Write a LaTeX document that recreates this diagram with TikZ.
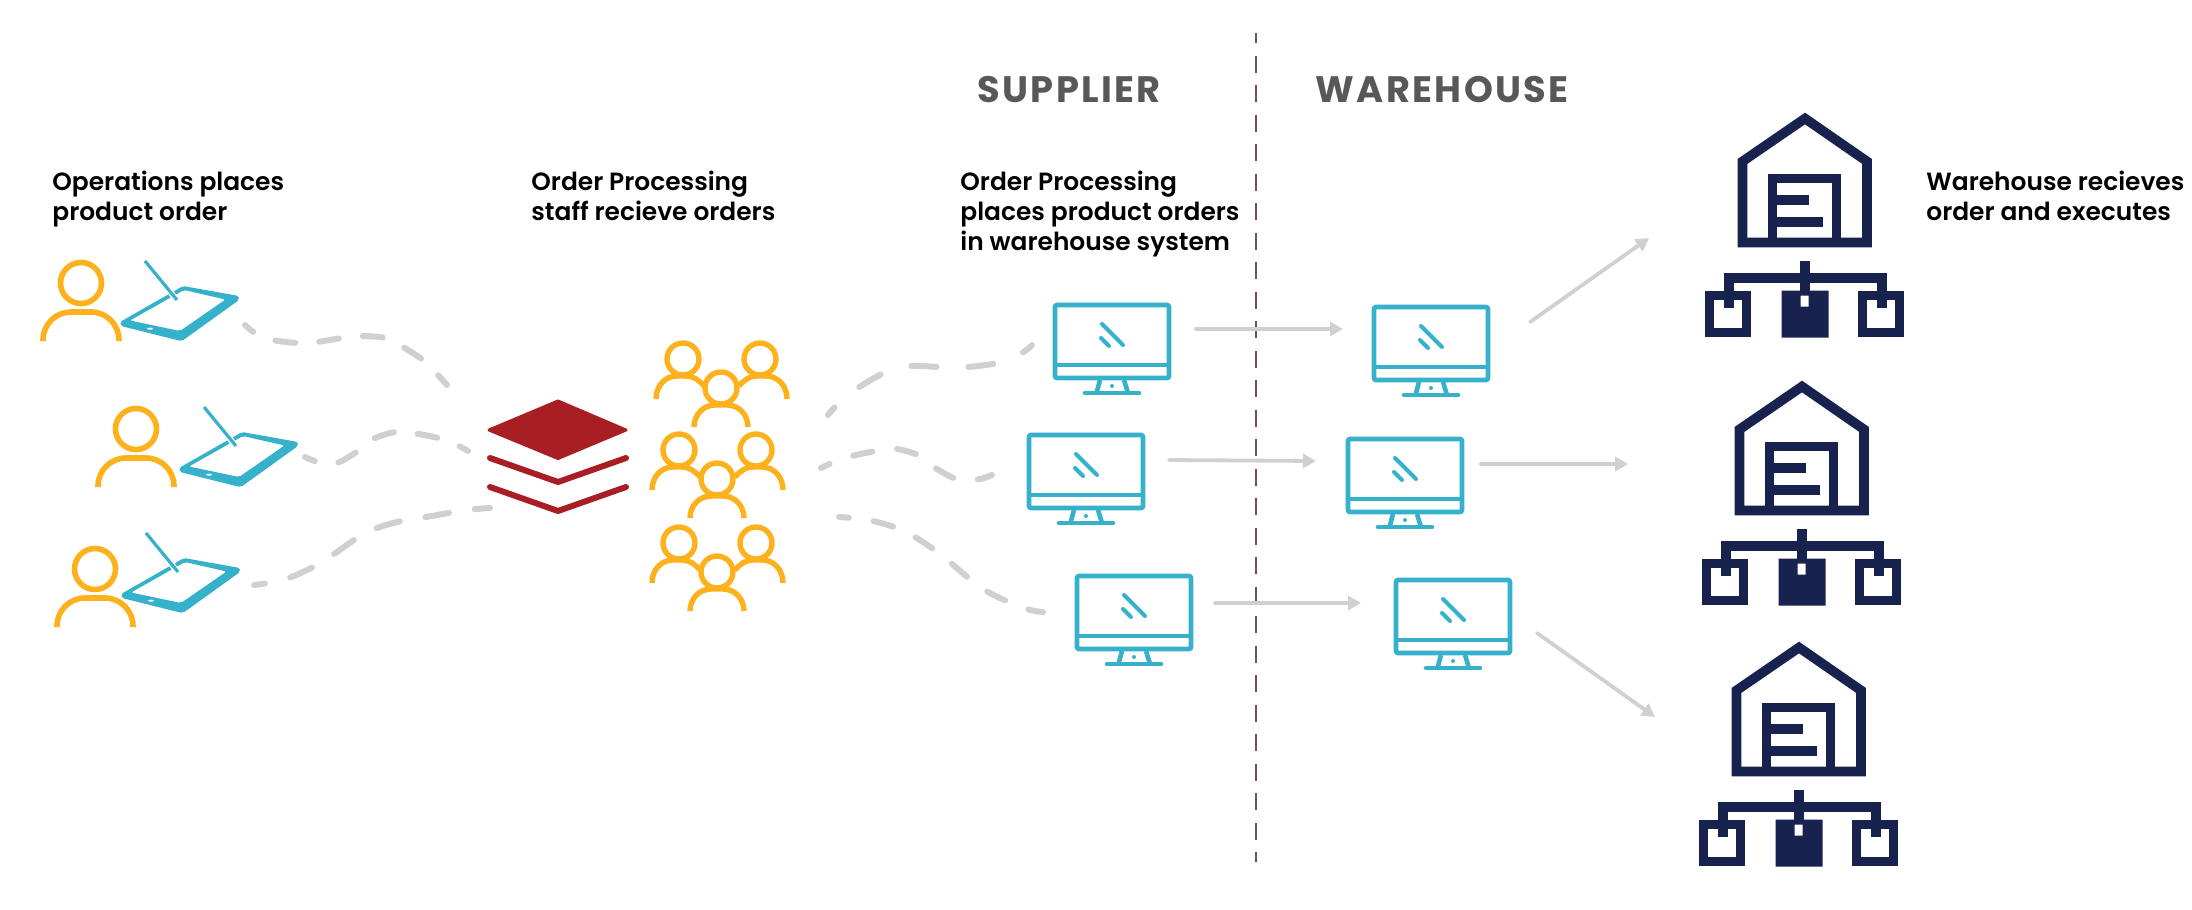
\documentclass[tikz,border=0pt]{standalone}
\usepackage{fontspec}
\setmainfont{Poppins SemiBold}
\newfontfamily\headfont{Poppins Bold}[LetterSpace=6.5]
\usetikzlibrary{arrows.meta}
\definecolor{amber}{HTML}{FDB11C}
\definecolor{teal}{HTML}{36B1CC}
\definecolor{brick}{HTML}{A81E23}
\definecolor{navy}{HTML}{18224E}
\definecolor{flowgray}{HTML}{D0D0D0}
\definecolor{headgray}{HTML}{58585A}
\definecolor{divider}{HTML}{6E4F5B}
\tikzset{
  caption/.style={anchor=base west,inner sep=0pt,align=left,text=black,font=\fontsize{12.45}{15}\selectfont},
  heading/.style={anchor=base west,inner sep=0pt,text=headgray,font=\headfont\fontsize{18.4}{20}\selectfont},
  flow/.style={draw=flowgray,line width=3pt,line cap=round},
  feed/.style={draw=flowgray,line width=1.9pt,line cap=round,-{Triangle[length=6.5pt,width=7pt]}},
  person/.pic={
    \draw[amber,line width=2.8pt] (0,0) circle[radius=20.5];
    \draw[amber,line width=2.8pt,rounded corners=14pt] (-38,58) -- (-38,29) -- (38,29) -- (38,58);
  },
  crowd/.pic={
    \begin{scope}[amber,line width=2.7pt]
      \draw (0,0) circle[radius=16];
      \draw (77,0) circle[radius=16];
      \draw (-27,40) .. controls (-27,27) and (-18,17) .. (-6,17) -- (3,17) .. controls (10,17) and (16,21) .. (21,27);
      \draw (104,40) .. controls (104,27) and (95,17) .. (83,17) -- (74,17) .. controls (67,17) and (61,21) .. (56,27);
      \draw[fill=white] (38,29) circle[radius=16];
      \draw (11,68) .. controls (11,56) and (20,46) .. (32,46) -- (44,46) .. controls (56,46) and (65,56) .. (65,68);
    \end{scope}
  },
  slate/.pic={
    \fill[teal,even odd rule,rounded corners=1pt]
      (0,-1) -- (63,-37) -- (119,-27) -- (119,-23) -- (62,18) -- (57,17) -- (1,3) -- cycle
      (10,-2.5) -- (60,8) -- (105.5,-23.5) -- (64,-33) -- cycle;
    \fill[white] (30,5.7) ellipse[x radius=3,y radius=1];
    \draw[white,line width=3pt] (44,-40) -- (54,-26);
    \draw[teal,line width=1.6pt] (25,-62) -- (57,-23);
  },
  monitor/.pic={
    \begin{scope}[teal,line width=2.3pt]
      \draw[rounded corners=1pt] (2,2) rectangle (116,75);
      \draw (2,62) -- (116,62);
      \draw (47,77) -- (43.5,90);
      \draw (71,77) -- (75,90);
      \draw[line cap=round] (32,90) -- (86,90);
      \draw[line cap=round,line width=2pt] (49,21) -- (70,42);
      \draw[line cap=round,line width=2pt] (48,35) -- (56,43);
      \fill (59,83) circle[radius=2];
    \end{scope}
  },
  depot/.pic={
    \draw[navy,line width=4.8pt,miter limit=10] (-62.5,129.5) -- (-62.5,48.4) -- (0,5.5) -- (62,48.4) -- (62,129.5) -- cycle;
    \draw[navy,line width=4.8pt] (-32.5,129.5) -- (-32.5,65.5) -- (31.5,65.5) -- (31.5,129.5);
    \fill[navy] (-32.5,81.5) rectangle (3.5,91.5);
    \fill[navy] (-32.5,103.5) rectangle (17.5,113.5);
    \fill[navy] (-5.5,148) rectangle (4.5,178);
    \fill[navy] (-81.5,159.5) rectangle (81.5,169.5);
    \fill[navy] (-81.5,160) rectangle (-71.5,194.5);
    \fill[navy] (71.5,160) rectangle (81.5,194.5);
    \draw[navy,line width=4.8pt] (-95.5,182.5) rectangle (-58.5,219.5);
    \draw[navy,line width=4.8pt] (57.5,182.5) rectangle (94.5,219.5);
    \fill[navy,even odd rule] (-23.5,177.5) rectangle (23.5,224.5) (-4.5,182.5) rectangle (3.5,193.5);
  },
  stack/.pic={
    \fill[brick,draw=brick,line width=1.5pt,line join=round] (-69,31) -- (0,2) -- (68,31) -- (0,59.5) -- cycle;
    \draw[brick,line width=3pt,line cap=round,line join=round] (-68,59) -- (0,83) -- (68,59);
    \draw[brick,line width=3pt,line cap=round,line join=round] (-68,88) -- (0,112) -- (68,88);
  }
}
\begin{document}
\begin{tikzpicture}[x=0.5pt,y=-0.5pt]
\useasboundingbox (0,0) rectangle (2192,910);

% column divider
\coordinate (divtop) at (1256,33);
\coordinate (divbot) at (1256,862);
\draw[divider,line width=1.1pt,dash pattern=on 8.5pt off 6.25pt,dash phase=3.5pt] (divtop) -- (divbot);

% headings and captions
\node[heading] (supplier) at (977,102) {SUPPLIER};
\node[heading] (warehouse) at (1315,102) {WAREHOUSE};
\node[caption] (opscap) at (52,220) {Operations places\\product order};
\node[caption] (staffcap) at (531,220) {Order Processing\\staff recieve orders};
\node[caption] (placecap) at (960,250) {Order Processing\\places product orders\\in warehouse system};
\node[caption] (whcap) at (1926,220) {Warehouse recieves\\order and executes};

% operations staff with tablets
\pic (op1) at (81,283) {person};
\pic (op2) at (136,429) {person};
\pic (op3) at (95,569) {person};
\pic (tab1) at (120,323) {slate};
\pic (tab2) at (179,469) {slate};
\pic (tab3) at (121,595) {slate};

% order stack and processing staff
\pic (orders) at (558,399) {stack};
\pic (staff1) at (683,359) {crowd};
\pic (staff2) at (679,450) {crowd};
\pic (staff3) at (679,543) {crowd};

% supplier and warehouse terminals
\pic (sup1) at (1053,303) {monitor};
\pic (sup2) at (1027,433) {monitor};
\pic (sup3) at (1075,574) {monitor};
\pic (wht1) at (1372,305) {monitor};
\pic (wht2) at (1346,437) {monitor};
\pic (wht3) at (1394,578) {monitor};

% warehouses
\pic (depot1) at (1805,113) {depot};
\pic (depot2) at (1802,381) {depot};
\pic (depot3) at (1799,642) {depot};

% connector ends
\coordinate (tab1out) at (245,325);
\coordinate (tab2out) at (305,457);
\coordinate (tab3out) at (254,585);
\coordinate (ordin1) at (447,385);
\coordinate (ordin2) at (468,451);
\coordinate (ordin3) at (490,508);
\coordinate (staffout1) at (828,415);
\coordinate (staffout2) at (821,468);
\coordinate (staffout3) at (839,517);
\coordinate (sup1in) at (1032,345);
\coordinate (sup2in) at (992,475);
\coordinate (sup3in) at (1043,612);
\coordinate (sup1out) at (1196,329);
\coordinate (sup2out) at (1169,460);
\coordinate (sup3out) at (1215,603);
\coordinate (wht1in) at (1343,329);
\coordinate (wht2in) at (1316,461);
\coordinate (wht3in) at (1361,603);
\coordinate (wht1out) at (1530,322);
\coordinate (wht2out) at (1481,464);
\coordinate (wht3out) at (1537,633);
\coordinate (depot1in) at (1649,238);
\coordinate (depot2in) at (1628,464);
\coordinate (depot3in) at (1655,717);

% dashed order flows
\draw[flow,dash pattern=on 10pt off 12pt,dash phase=4.7pt] plot[smooth] coordinates
  {(tab1out) (255,333) (273,340) (298,343) (317,342) (342,338) (360,336) (385,338) (403,347) (423,360) (437,374) (ordin1)};
\draw[flow,dash pattern=on 10pt off 12pt,dash phase=4.7pt] plot[smooth] coordinates
  {(tab2out) (318,462) (337,463) (358,451) (373,439) (395,432) (413,433) (438,438) (455,444) (ordin2)};
\draw[flow,dash pattern=on 12pt off 13pt,dash phase=6.5pt] plot[smooth] coordinates
  {(tab3out) (268,583) (289,578) (315,566) (334,554) (357,538) (377,528) (405,520) (426,517) (454,512) (477,509) (ordin3)};
\draw[flow,dash pattern=on 12.5pt off 16pt,dash phase=7.5pt] plot[smooth] coordinates
  {(staffout1) (837,405) (858,388) (884,373) (910,366) (940,367) (967,367) (997,363) (1022,353) (sup1in)};
\draw[flow,dash pattern=on 9.75pt off 12.5pt,dash phase=5pt] plot[smooth] coordinates
  {(staffout2) (832,463) (852,456) (876,451) (897,449) (920,456) (937,469) (959,480) (980,479) (sup2in)};
\draw[flow,dash pattern=on 10pt off 12.5pt,dash phase=5pt] plot[smooth] coordinates
  {(staffout3) (852,518) (873,521) (897,528) (915,537) (936,551) (952,564) (971,580) (988,592) (1011,603) (1030,610) (sup3in)};

% system-to-system and dispatch arrows
\draw[feed] (sup1out) -- (wht1in);
\draw[feed] (sup2out) -- (wht2in);
\draw[feed] (sup3out) -- (wht3in);
\draw[feed] (wht1out) -- (depot1in);
\draw[feed] (wht2out) -- (depot2in);
\draw[feed] (wht3out) -- (depot3in);
\end{tikzpicture}
\end{document}
